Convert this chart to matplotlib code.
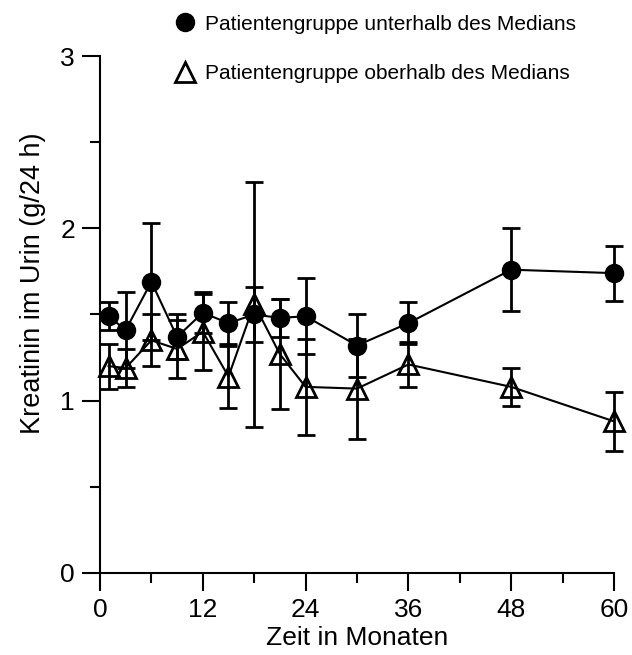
import matplotlib
matplotlib.use('Agg')
import matplotlib.pyplot as plt
from matplotlib.lines import Line2D
from matplotlib.ticker import MultipleLocator

plt.rcParams['font.family'] = ['Liberation Sans', 'DejaVu Sans']

# Zeitpunkte in Monaten
months = [1, 3, 6, 9, 12, 15, 18, 21, 24, 30, 36, 48, 60]

# Patientengruppe unterhalb des Medians (gefuellte Kreise)
below = [1.49, 1.41, 1.69, 1.37, 1.51, 1.45, 1.50, 1.48, 1.49, 1.32, 1.45, 1.76, 1.74]
below_err = [0.08, 0.22, 0.34, 0.13, 0.12, 0.12, 0.16, 0.11, 0.22, 0.18, 0.12, 0.24, 0.16]

# Patientengruppe oberhalb des Medians (offene Dreiecke)
above = [1.20, 1.19, 1.35, 1.30, 1.40, 1.14, 1.56, 1.27, 1.08, 1.07, 1.21, 1.08, 0.88]
above_err = [0.13, 0.11, 0.15, 0.17, 0.22, 0.18, 0.71, 0.32, 0.28, 0.29, 0.13, 0.11, 0.17]

labels = ['Patientengruppe unterhalb des Medians',
          'Patientengruppe oberhalb des Medians']
x_ticks = [0, 12, 24, 36, 48, 60]

fig = plt.figure(figsize=(6.32, 6.55), dpi=100)
ax = fig.add_axes([0.1582, 0.1252, 0.8133, 0.7893])

# triangles first, circles on top
ax.errorbar(months, above, yerr=above_err, color='black', lw=1.5,
            elinewidth=2, capsize=6.5, capthick=2,
            marker='^', markersize=14, markerfacecolor='none',
            markeredgecolor='black', markeredgewidth=2, clip_on=False, zorder=2)
ax.errorbar(months, below, yerr=below_err, color='black', lw=1.5,
            elinewidth=2, capsize=6.5, capthick=2,
            marker='o', markersize=13, markerfacecolor='black',
            markeredgecolor='black', clip_on=False, zorder=3)

ax.set_xlim(0, 60)
ax.set_ylim(0, 3)
ax.set_xticks(x_ticks)
ax.xaxis.set_minor_locator(MultipleLocator(6))
ax.yaxis.set_major_locator(MultipleLocator(1))
ax.yaxis.set_minor_locator(MultipleLocator(0.5))

for side in ['top', 'right']:
    ax.spines[side].set_visible(False)
for side in ['left', 'bottom']:
    ax.spines[side].set_linewidth(1.5)

ax.tick_params(which='major', direction='out', length=13, width=1.5, labelsize=19, pad=5)
ax.tick_params(which='minor', direction='out', length=7, width=1.5)

ax.set_xlabel('Zeit in Monaten', fontsize=19, labelpad=3)
ax.set_ylabel('Kreatinin im Urin (g/24 h)', fontsize=19.5)
ax.yaxis.set_label_coords(-0.105, 0.56)

handles = [
    Line2D([], [], ls='none', marker='o', color='black', markersize=13),
    Line2D([], [], ls='none', marker='^', markerfacecolor='none',
           markeredgecolor='black', markeredgewidth=2, markersize=14),
]
fig.legend(handles, labels, loc='upper left', bbox_to_anchor=(0.25, 1.0),
           frameon=False, fontsize=15, labelspacing=1.45, handletextpad=0.35,
           handlelength=1.2, borderaxespad=0.3)

fig.savefig('out.png', dpi=100)
